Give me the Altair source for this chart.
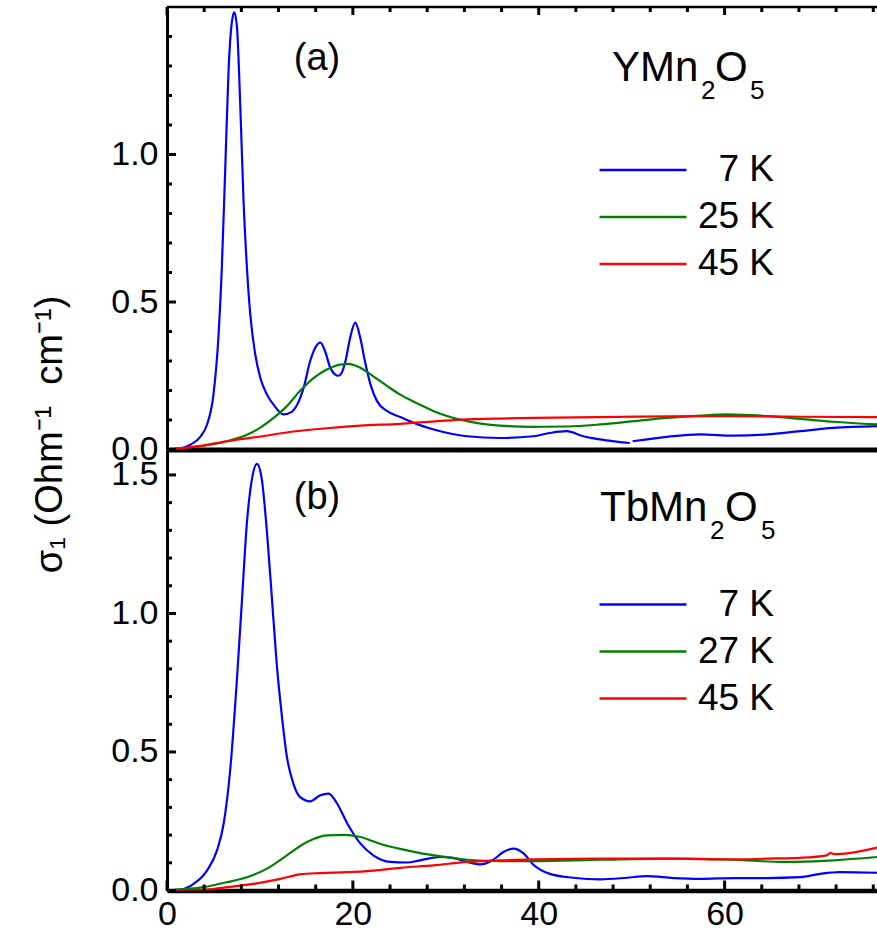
import altair as alt
import pandas as pd

# ---------------- data: panel (a) YMn2O5 ----------------
a_labels = ["7 K", "25 K", "45 K"]
# 7 K curve has a small gap near 50 cm-1 -> two pieces
a7_x1 = [0, 1.4, 2.5, 3.6, 4.3, 5.0, 5.55, 5.9, 6.27, 6.63, 7.0, 7.24, 7.53, 7.89, 8.24, 8.6, 8.96, 9.5,
         10.04, 10.76, 11.47, 12.55, 13.27, 14.0, 14.7, 15.4, 15.95, 16.5, 17.0, 17.57, 18.1, 18.45, 18.8,
         19.2, 19.7, 20.26, 20.8, 21.3, 21.9, 22.6, 23.7, 25.1, 26.9, 28.7, 32.3, 35.8, 39.4, 41.2, 43.0,
         44.8, 47.3, 49.8]
a7_y1 = [0, 0.003, 0.016, 0.044, 0.084, 0.186, 0.39, 0.617, 0.955, 1.29, 1.454, 1.482, 1.431, 1.16, 0.84,
         0.617, 0.458, 0.322, 0.243, 0.186, 0.152, 0.119, 0.125, 0.152, 0.209, 0.299, 0.345, 0.362, 0.334,
         0.277, 0.254, 0.25, 0.26, 0.299, 0.378, 0.43, 0.378, 0.299, 0.22, 0.164, 0.130, 0.11, 0.086, 0.068,
         0.045, 0.039, 0.045, 0.056, 0.062, 0.045, 0.031, 0.022]
a7_x2 = [50.1, 53.8, 57.4, 61.0, 64.6, 68.1, 71.7, 76.4]
a7_y2 = [0.028, 0.043, 0.051, 0.047, 0.051, 0.062, 0.073, 0.079]
a25_x = [0, 3.6, 6.45, 8.6, 10.04, 11.47, 12.9, 14.3, 15.8, 17.2, 18.65, 19.5, 20.8, 22.2, 23.7, 25.1,
         26.9, 28.7, 32.3, 35.8, 39.4, 43.0, 46.6, 50.2, 53.8, 57.4, 60.3, 64.6, 68.1, 71.7, 76.4]
a25_y = [0, 0.011, 0.028, 0.05, 0.074, 0.107, 0.147, 0.198, 0.243, 0.271, 0.288, 0.29, 0.277, 0.248,
         0.215, 0.186, 0.157, 0.13, 0.096, 0.081, 0.077, 0.078, 0.085, 0.096, 0.107, 0.115, 0.119, 0.113,
         0.104, 0.094, 0.085]
a45_x = [0, 3.6, 6.45, 10.04, 13.6, 17.2, 20.8, 25.1, 27.3, 32.3, 39.4, 46.6, 53.8, 61.0, 68.1, 76.4]
a45_y = [0, 0.012, 0.028, 0.044, 0.061, 0.072, 0.081, 0.087, 0.092, 0.102, 0.107, 0.11, 0.112, 0.113,
         0.111, 0.11]

# ---------------- data: panel (b) TbMn2O5 ----------------
b_labels = ["7 K", "27 K", "45 K"]
b7_x = [0, 1.43, 2.87, 4.3, 5.38, 6.1, 6.8, 7.5, 8.07, 8.6, 9.14, 9.68, 10.2, 10.76, 11.3, 11.8, 12.37,
        12.9, 13.6, 14.3, 15.4, 16.5, 17.4, 18.3, 19.4, 20.8, 22.2, 24.0, 25.8, 27.25, 29.4, 30.8, 32.3,
        33.7, 35.1, 36.2, 37.3, 38.4, 39.4, 41.2, 43.7, 46.6, 49.5, 51.6, 54.5, 57.4, 61.0, 64.6, 68.1,
        70.3, 72.4, 76.4]
b7_y = [0, 0.003, 0.024, 0.072, 0.145, 0.242, 0.435, 0.749, 1.05, 1.328, 1.485, 1.54, 1.485, 1.292,
        1.05, 0.821, 0.628, 0.483, 0.386, 0.338, 0.322, 0.344, 0.35, 0.314, 0.242, 0.17, 0.127, 0.103,
        0.101, 0.109, 0.121, 0.118, 0.103, 0.094, 0.111, 0.139, 0.151, 0.133, 0.094, 0.06, 0.046, 0.04,
        0.046, 0.052, 0.045, 0.042, 0.045, 0.045, 0.048, 0.06, 0.066, 0.064]
b27_x = [0, 3.9, 6.45, 8.6, 10.76, 12.9, 15.06, 17.2, 19.0, 20.8, 22.9, 25.1, 27.25, 28.7, 32.3, 35.8,
         39.4, 46.6, 53.8, 61.0, 66.3, 71.7, 76.4]
b27_y = [0, 0.012, 0.03, 0.048, 0.079, 0.127, 0.175, 0.199, 0.201, 0.193, 0.169, 0.15, 0.135, 0.127,
         0.111, 0.106, 0.106, 0.111, 0.115, 0.111, 0.103, 0.109, 0.121]
b45_x = [0, 3.9, 6.45, 9.3, 12.2, 14.3, 16.5, 19.4, 22.2, 25.1, 28.7, 32.3, 35.8, 39.4, 46.6, 53.8,
         61.0, 64.6, 68.1, 71.0, 71.4, 71.8, 73.4, 76.4]
b45_y = [0, 0.002, 0.012, 0.024, 0.042, 0.058, 0.063, 0.066, 0.072, 0.082, 0.091, 0.103, 0.109, 0.112,
         0.115, 0.115, 0.112, 0.115, 0.118, 0.127, 0.136, 0.131, 0.135, 0.155]

colors = ["#0000ff", "#008000", "#ff0000"]

# axis tick values
x_major = [0, 20, 40, 60]
x_minor = [4, 8, 12, 16, 24, 28, 32, 36, 44, 48, 52, 56, 64, 68, 72, 76]
a_y_major = [0.0, 0.5, 1.0]
a_y_minor = [0.1, 0.2, 0.3, 0.4, 0.6, 0.7, 0.8, 0.9, 1.1, 1.2, 1.3, 1.4]
b_y_major = [0.0, 0.5, 1.0, 1.5]
b_y_minor = [0.1, 0.2, 0.3, 0.4, 0.6, 0.7, 0.8, 0.9, 1.1, 1.2, 1.3, 1.4]

FONT = "Liberation Sans"
W = 710
H_A = 442.5
H_B = 440.5
X_MAX = 76.4


def frame(xs, ys, label, seg):
    return pd.DataFrame({"x": xs, "v": ys, "T": label, "seg": f"{label}-{seg}"})


df_a = pd.concat([
    frame(a7_x1, a7_y1, a_labels[0], 1),
    frame(a7_x2, a7_y2, a_labels[0], 2),
    frame(a25_x, a25_y, a_labels[1], 1),
    frame(a45_x, a45_y, a_labels[2], 1),
])
df_b = pd.concat([
    frame(b7_x, b7_y, b_labels[0], 1),
    frame(b27_x, b27_y, b_labels[1], 1),
    frame(b45_x, b45_y, b_labels[2], 1),
])

xscale = alt.Scale(domain=[0, X_MAX], nice=False, zero=False)


def label_chart(text, size, x, y):
    return alt.Chart(pd.DataFrame({"s": [text]})).mark_text(
        font=FONT, fontSize=size, align="left", baseline="alphabetic", color="black"
    ).encode(text="s:N", x=alt.value(x), y=alt.value(y))


def panel(df, labels, ymax, y_major, y_minor, H, bottom, tag, tag_y, formula, formula_x, base_y,
          legend_y, y_title):
    yscale = alt.Scale(domain=[0, ymax], nice=False, zero=False)
    if bottom:
        xaxis = alt.Axis(values=x_major, labels=True, ticks=False, grid=False,
                         domainWidth=4.5, domainColor="black", labelFontSize=34, labelFont=FONT,
                         labelColor="black", labelPadding=7, title=None, labelFlush=False)
    else:
        xaxis = alt.Axis(labels=False, ticks=False, grid=False, domainWidth=5,
                         domainColor="black", title=None)
    yaxis_kw = dict(values=y_major, format=".1f", labels=True, ticks=False, grid=False,
                    domainWidth=3, domainColor="black", labelFontSize=34, labelFont=FONT,
                    labelColor="black", labelPadding=9)
    if y_title:
        yaxis = alt.Axis(title=y_title, titleFontSize=38, titleFont=FONT, titleFontWeight="normal",
                         titleColor="black", titleAngle=270, titleAlign="center",
                         titleBaseline="middle", titleX=-117, titleY=427, **yaxis_kw)
    else:
        yaxis = alt.Axis(title=None, **yaxis_kw)

    lines = alt.Chart(df).mark_line(clip=True, strokeWidth=2.2, interpolate="monotone").encode(
        x=alt.X("x:Q", scale=xscale, axis=xaxis),
        y=alt.Y("v:Q", scale=yscale, axis=yaxis),
        color=alt.Color("T:N", scale=alt.Scale(domain=labels, range=colors), legend=alt.Legend(
            orient="none", legendX=453, legendY=legend_y, title=None, padding=0,
            symbolType="M-2,0H2", symbolSize=1892, symbolStrokeWidth=2.5, symbolOpacity=1,
            labelFontSize=37, labelFont=FONT, labelColor="black", labelOffset=108,
            labelAlign="right", rowPadding=6, labelLimit=0)),
        detail="seg:N",
    )

    def yticks(vals, length):
        return alt.Chart(pd.DataFrame({"t": vals})).mark_rule(color="black", strokeWidth=3).encode(
            y=alt.Y("t:Q", scale=yscale, axis=yaxis), x=alt.value(0), x2=alt.value(length))

    def xticks(vals, length, at_top):
        y0 = 0 if at_top else H
        y1 = length if at_top else H - length
        return alt.Chart(pd.DataFrame({"t": vals})).mark_rule(color="black", strokeWidth=3).encode(
            x=alt.X("t:Q", scale=xscale, axis=xaxis), y=alt.value(y0), y2=alt.value(y1))

    layers = [lines, yticks(y_major, 9), yticks(y_minor, 5)]
    if bottom:
        layers += [xticks(x_major, 10, False), xticks(x_minor, 6, False)]
    else:
        layers += [xticks(x_major, 8, True), xticks(x_minor, 5, True)]
        layers.append(alt.Chart(pd.DataFrame({"t": [0]})).mark_rule(color="black", strokeWidth=2.5)
                      .encode(x=alt.value(0), x2=alt.value(W), y=alt.value(0)))
    # panel tag
    layers.append(alt.Chart(pd.DataFrame({"s": [tag]})).mark_text(
        font=FONT, fontSize=38, align="center", baseline="alphabetic", color="black"
    ).encode(text="s:N", x=alt.value(150), y=alt.value(tag_y)))
    # chemical formula with subscripts
    main, sub1, mid, sub2 = formula
    fx = formula_x
    layers += [
        label_chart(main, 42, fx[0], base_y),
        label_chart(sub1, 26, fx[1], base_y + 18),
        label_chart(mid, 42, fx[2], base_y),
        label_chart(sub2, 26, fx[3], base_y + 18),
    ]
    return alt.layer(*layers).properties(width=W, height=H)


top = panel(df_a, a_labels, 1.5, a_y_major, a_y_minor, H_A, False, "(a)", 63,
            ["YMn", "2", "O", "5"], [445, 534, 548, 583], 73.7, 140,
            "σ₁ (Ohm⁻¹\u00a0 cm⁻¹)")
bottom = panel(df_b, b_labels, 1.59, b_y_major, b_y_minor, H_B, True, "(b)", 59.2,
               ["TbMn", "2", "O", "5"], [433, 543, 558, 594], 71.2, 131.5, None)

chart = alt.vconcat(top, bottom, spacing=0, bounds="flush").resolve_scale(
    color="independent", y="independent", x="independent"
).resolve_legend(color="independent").properties(
    autosize=alt.AutoSizeParams(type="none"),
    padding={"left": 167, "top": 7, "right": 0, "bottom": 924},
    background="white",
).configure(font=FONT).configure_view(stroke=None)

chart.save("out.html", embed_options={"renderer": "svg", "actions": False})
